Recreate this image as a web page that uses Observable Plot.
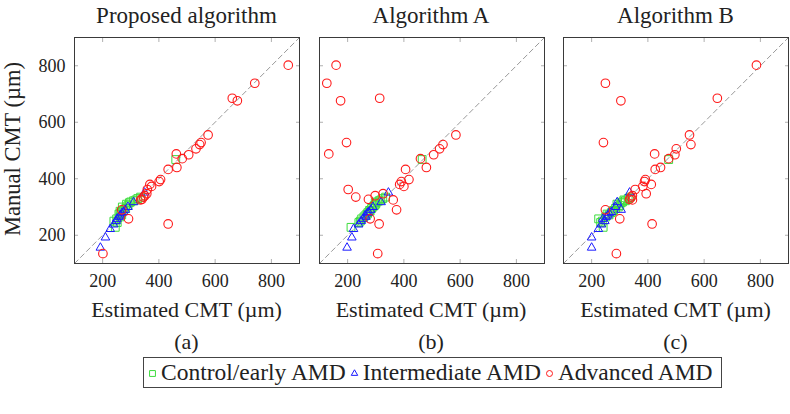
<!DOCTYPE html>
<html>
<head>
<meta charset="utf-8">
<script src="https://cdn.jsdelivr.net/npm/d3@7"></script>
<script src="https://cdn.jsdelivr.net/npm/@observablehq/plot@0.6"></script>
<style>
  html, body { margin: 0; padding: 0; background: #fff; }
  #chart { position: relative; width: 790px; height: 414px; color: #222; }
  #chart, #chart div, #chart span, #chart svg, #chart svg text { font-family: "Liberation Serif", serif !important; }
  .abs { position: absolute; white-space: nowrap; }
  .panel { position: absolute; top: 0; }
  .title { font-size: 23px; line-height: 23px; text-align: center; width: 240px; }
  .xlab { font-size: 22px; line-height: 22px; text-align: center; width: 240px; }
  .sub { font-size: 22px; line-height: 22px; text-align: center; width: 60px; }
  #legend { position: absolute; left: 143px; top: 357px; width: 579px; height: 31px; border: 1px solid #444; box-sizing: border-box; display: flex; align-items: center; font-size: 23.5px; line-height: 23.5px; }
  #legend .item { display: flex; align-items: center; }
  #legend svg { margin: 0 5px 0 4px; }
</style>
</head>
<body>
<div id="chart"></div>
<script>
// ---- data ----
const panelTitles = ["Proposed algorithm", "Algorithm A", "Algorithm B"];
const panelTags = ["(a)", "(b)", "(c)"];
const groupNames = ["Control/early AMD", "Intermediate AMD", "Advanced AMD"];
const tickValues = [200, 400, 600, 800];
const axisDomain = [100, 900];
const xLabel = "Estimated CMT (µm)";
const yLabel = "Manual CMT (µm)";

// Control / early AMD
const controlManual   = [228, 245, 250, 258, 265, 272, 275, 280, 285, 288, 295, 300, 305, 310, 315, 318, 322, 325, 330, 335, 468];
const controlProposed = [245, 252, 240, 250, 262, 268, 258, 265, 262, 275, 282, 270, 290, 285, 295, 300, 310, 318, 325, 335, 460];
const controlA        = [212, 240, 245, 250, 258, 265, 270, 272, 280, 278, 285, 290, 295, 300, 298, 305, 312, 318, 325, 335, 465];
const controlB        = [241, 232, 238, 225, 250, 262, 255, 270, 275, 278, 285, 295, 300, 290, 305, 310, 320, 315, 330, 338, 474];

// Intermediate AMD
const interManual   = [156, 192, 222, 238, 250, 258, 265, 270, 278, 282, 290, 300, 317, 351];
const interProposed = [192, 210, 227, 239, 248, 251, 258, 262, 268, 274, 280, 290, 310, 349];
const interA        = [198, 215, 221, 239, 248, 255, 265, 262, 270, 274, 282, 290, 319, 345];
const interB        = [200, 200, 224, 235, 247, 240, 252, 258, 262, 270, 305, 285, 291, 335];

// Advanced AMD
const advManual   = [802, 738, 685, 676, 555, 528, 521, 506, 488, 485, 471, 440, 433, 397, 390, 380, 373, 362, 347, 340, 335, 327, 325, 290, 258, 240, 135];
const advProposed = [860, 741, 661, 679, 575, 550, 545, 532, 462, 506, 483, 464, 433, 406, 401, 368, 374, 359, 357, 350, 345, 340, 335, 268, 292, 433, 201];
const advA        = [159, 126, 314, 175, 585, 196, 539, 527, 133, 506, 459, 480, 406, 418, 391, 385, 400, 202, 326, 298, 229, 274, 362, 374, 280, 312, 307];
const advB        = [786, 249, 647, 304, 548, 242, 553, 501, 424, 496, 474, 445, 426, 391, 388, 412, 382, 355, 394, 345, 340, 335, 345, 249, 300, 415, 288];

const colors = {control: "#3ddc3d", inter: "#1a1aff", adv: "#ff1a1a"};

// ---- layout ----
const frameLefts = [74, 318.5, 563];
const frameW = 225, frameH = 226, frameTop = 37;
const FONT = "Liberation Serif, serif";

const estimates = [
  [controlProposed, interProposed, advProposed],
  [controlA, interA, advA],
  [controlB, interB, advB]
];

const chart = document.getElementById("chart");

function pts(est, man) { return est.map((e, i) => ({x: e, y: man[i]})); }

function makePanel(k) {
  const mL = k === 0 ? 74 : 6;
  const mR = 2, mT = frameTop, mB = 40;
  const [cE, iE, aE] = estimates[k];
  const marks = [
    Plot.line(axisDomain.map(v => ({v})), {x: "v", y: "v", stroke: "#9a9a9a", strokeWidth: 1, strokeDasharray: "5,3.5"}),
    Plot.axisX({anchor: "bottom", ticks: tickValues, tickSize: 0, tickPadding: 11, fontSize: 18, fontFamily: FONT, label: null, tickFormat: d => d}),
    Plot.axisX({anchor: "bottom", ticks: tickValues, tickSize: -4, tickFormat: () => "", stroke: "#b0b0b0", label: null}),
    Plot.axisX({anchor: "top", ticks: tickValues, tickSize: -4, tickFormat: () => "", stroke: "#b0b0b0", label: null}),
    Plot.axisY({anchor: "left", ticks: tickValues, tickSize: -4, tickFormat: () => "", stroke: "#b0b0b0", label: null}),
    Plot.axisY({anchor: "right", ticks: tickValues, tickSize: -4, tickFormat: () => "", stroke: "#b0b0b0", label: null}),
  ];
  if (k === 0) marks.push(Plot.axisY({anchor: "left", ticks: tickValues, tickSize: 0, tickPadding: 9, fontSize: 18, fontFamily: FONT, label: null, tickFormat: d => d}));
  marks.push(
    Plot.frame({stroke: "#3a3a3a", strokeWidth: 1}),
    Plot.dot(pts(cE, controlManual), {x: "x", y: "y", symbol: "square", r: 4.4, stroke: colors.control, strokeWidth: 1, fill: "none"}),
    Plot.dot(pts(iE, interManual), {x: "x", y: "y", symbol: "triangle", r: 3.2, stroke: colors.inter, strokeWidth: 1, fill: "none"}),
    Plot.dot(pts(aE, advManual), {x: "x", y: "y", symbol: "circle", r: 4.3, stroke: colors.adv, strokeWidth: 1.1, fill: "none"})
  );
  const svg = Plot.plot({
    width: frameW + mL + mR,
    height: frameH + mT + mB,
    marginLeft: mL, marginRight: mR, marginTop: mT, marginBottom: mB,
    x: {domain: axisDomain},
    y: {domain: axisDomain},
    style: {fontFamily: FONT, fontSize: "18px", color: "#222", background: "transparent", overflow: "visible"},
    marks
  });
  svg.classList.add("panel");
  svg.style.left = (frameLefts[k] - mL) + "px";
  chart.appendChild(svg);

  const cx = frameLefts[k] + frameW / 2;
  const t = document.createElement("div");
  t.className = "abs title"; t.textContent = panelTitles[k];
  t.style.left = (cx - 120) + "px"; t.style.top = "3.5px";
  chart.appendChild(t);

  const xl = document.createElement("div");
  xl.className = "abs xlab"; xl.textContent = xLabel;
  xl.style.left = (cx - 120) + "px"; xl.style.top = "299px";
  chart.appendChild(xl);

  const s = document.createElement("div");
  s.className = "abs sub"; s.textContent = panelTags[k];
  s.style.left = (cx - 30) + "px"; s.style.top = "331px";
  chart.appendChild(s);
}

[0, 1, 2].forEach(makePanel);

// y label
const yl = document.createElement("div");
yl.className = "abs";
yl.style.fontSize = "22.5px"; yl.style.lineHeight = "22px";
yl.style.width = "220px"; yl.style.textAlign = "center";
yl.style.left = (13 - 110) + "px"; yl.style.top = (149 - 11) + "px";
yl.style.transform = "rotate(-90deg)";
yl.textContent = yLabel;
chart.appendChild(yl);

// legend
const legend = document.createElement("div");
legend.id = "legend";
const legendSymbols = ["square", "triangle", "circle"];
const legendColors = [colors.control, colors.inter, colors.adv];
groupNames.forEach((name, i) => {
  const item = document.createElement("div");
  item.className = "item";
  const sym = Plot.plot({
    width: 8, height: 8, margin: 0,
    x: {domain: [0, 1], axis: null}, y: {domain: [0, 1], axis: null},
    style: {background: "transparent", overflow: "visible"},
    marks: [Plot.dot([{x: 0.5, y: 0.5}], {x: "x", y: "y", symbol: legendSymbols[i], r: i === 1 ? 2.4 : (i === 0 ? 3.3 : 3), stroke: legendColors[i], strokeWidth: 1, fill: "none"})]
  });
  sym.style.display = "inline-block";
  item.appendChild(sym);
  const span = document.createElement("span");
  span.textContent = name;
  item.appendChild(span);
  legend.appendChild(item);
});
chart.appendChild(legend);
</script>
</body>
</html>
